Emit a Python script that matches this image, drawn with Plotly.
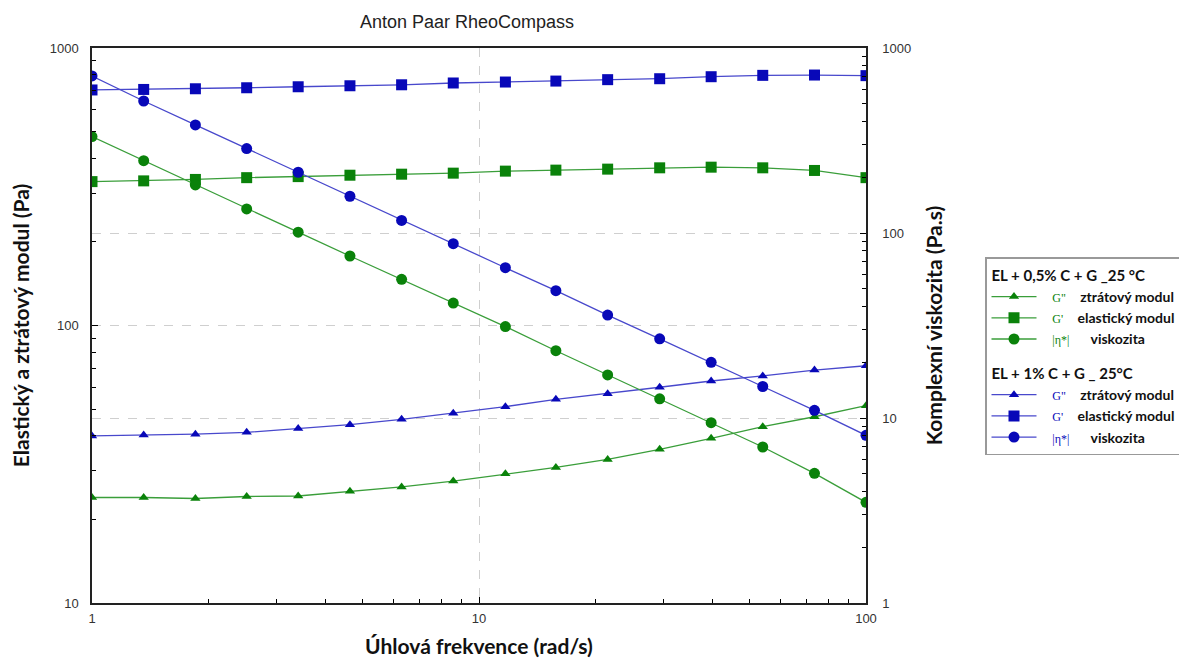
import plotly.graph_objects as go

# Angular frequency (rad/s)
omega = [1.0, 1.36, 1.85, 2.51, 3.41, 4.64, 6.31, 8.58, 11.7, 15.8, 21.5, 29.3, 39.8, 54.1, 73.6, 100.0]

# EL + 0,5% C + G _25 °C (green)
g_loss_05 = [24.0, 24.0, 23.8, 24.2, 24.3, 25.3, 26.2, 27.5, 29.2, 30.8, 32.9, 35.8, 39.2, 43.2, 46.9, 51.4]
g_stor_05 = [330, 332, 336, 341, 344, 348, 351, 354, 360, 363, 366, 370, 372, 370, 362, 341]
eta_05 = [332, 246, 182, 135, 101, 75.1, 56.2, 41.8, 31.2, 23.1, 17.1, 12.7, 9.43, 6.97, 5.02, 3.50]

# EL + 1% C + G _ 25°C (blue)
g_loss_1 = [40.0, 40.3, 40.6, 41.2, 42.5, 43.9, 45.9, 48.3, 51.0, 54.2, 56.8, 59.9, 63.1, 65.8, 69.1, 71.6]
g_stor_1 = [706, 709, 713, 719, 725, 731, 737, 748, 754, 760, 769, 775, 788, 797, 799, 795]
eta_1 = [706, 517, 384, 286, 213, 158, 117, 87.5, 64.9, 48.8, 36.0, 26.8, 20.0, 14.8, 11.0, 8.06]

GREEN_M = "#0a820a"
GREEN_L = "#3a9e3a"
BLUE_M = "#0808b8"
BLUE_L = "#4848cc"

NB = "\u00a0"


def lab(sym, desc, color):
    return (NB * 3 + f'<span style="color:{color};font-family:Liberation Serif;font-size:12px;font-weight:normal">{sym}</span>'
            + NB * 4 + f'<b>{desc}</b>')


fig = go.Figure()

series = [
    ("g1", "<b>EL + 0,5% C + G _25 °C</b>", GREEN_M, GREEN_L, [
        (g_loss_05, "y", "triangle-up", 9, 'G"', "ztrátový modul"),
        (g_stor_05, "y", "square", 11, "G'", "elastický modul"),
        (eta_05, "y2", "circle", 11, "|η*|", NB * 2 + "viskozita"),
    ]),
    ("g2", "<b>EL + 1% C + G _ 25°C</b>", BLUE_M, BLUE_L, [
        (g_loss_1, "y", "triangle-up", 9, 'G"', "ztrátový modul"),
        (g_stor_1, "y", "square", 11, "G'", "elastický modul"),
        (eta_1, "y2", "circle", 11, "|η*|", NB * 2 + "viskozita"),
    ]),
]

for grp, gtitle, cm, cl, items in series:
    for i, (vals, yax, sym, sz, s, d) in enumerate(items):
        fig.add_trace(go.Scatter(
            x=omega, y=vals, yaxis=yax, mode="lines+markers",
            line=dict(color=cl, width=1.3),
            marker=dict(symbol=sym, size=sz, color=cm),
            name=lab(s, d, cm),
            legendgroup=grp,
            legendgrouptitle=dict(text=gtitle, font=dict(size=15, color="#111", family="Lato")) if i == 0 else None,
        ))

grid = dict(showgrid=True, gridcolor="#cfcfcf", griddash="dash", gridwidth=1)
minor = dict(ticks="inside", ticklen=4, tickcolor="black", showgrid=False, dtick="D1")
tickfont = dict(family="Liberation Sans", size=13, color="#333")

W, H = 1179, 651

fig.update_layout(
    width=W, height=H,
    margin=dict(l=84, r=321, t=40, b=56, autoexpand=False),
    plot_bgcolor="white", paper_bgcolor="white",
    font=dict(family="Liberation Sans", size=12, color="#333"),
    title=dict(text="Anton Paar RheoCompass", x=(467 - 8) / W, xref="container", xanchor="center",
               y=1 - (22 - 8) / H, yref="container", yanchor="middle",
               font=dict(family="Liberation Sans", size=18, color="#222")),
    xaxis=dict(type="log", range=[0, 2], tickvals=[1, 10, 100], ticktext=["1", "10", "100"],
               ticks="inside", ticklen=6, tickcolor="black", minor=minor, tickfont=tickfont,
               ticklabelstandoff=3, automargin=False,
               showline=True, linecolor="#222", linewidth=1.5, mirror=True,
               title=dict(text="<b>Úhlová frekvence (rad/s)</b>", standoff=14,
                          font=dict(family="Lato", size=21, color="#111")),
               **grid),
    yaxis=dict(type="log", range=[1, 3], tickvals=[10, 100, 1000], ticktext=["10", "100", "1000"],
               ticks="inside", ticklen=6, tickcolor="black", minor=minor, tickfont=tickfont,
               ticklabelstandoff=9, automargin=False,
               showline=True, linecolor="#222", linewidth=1.5,
               title=dict(text="<b>Elastický a ztrátový modul (Pa)</b>", standoff=20,
                          font=dict(family="Lato", size=21, color="#111")),
               **grid),
    yaxis2=dict(type="log", range=[0, 3], overlaying="y", side="right",
                tickvals=[1, 10, 100, 1000], ticktext=["1", "10", "100", "1000"],
                ticks="inside", ticklen=6, tickcolor="black", minor=minor, tickfont=tickfont,
                ticklabelstandoff=12, automargin=False,
                showline=True, linecolor="#222", linewidth=1.5,
                title=dict(text="<b>Komplexní viskozita (Pa.s)</b>", standoff=17,
                           font=dict(family="Lato", size=21, color="#111")),
                **grid),
    legend=dict(x=(985 - 92) / 774, xanchor="left", y=(603 - 257) / 555, yanchor="top",
                bordercolor="#999", borderwidth=1.5, bgcolor="white",
                font=dict(family="Lato", size=14, color="#111"),
                tracegroupgap=12, itemwidth=45, traceorder="grouped"),
    showlegend=True,
)

fig.write_html("out.html")
